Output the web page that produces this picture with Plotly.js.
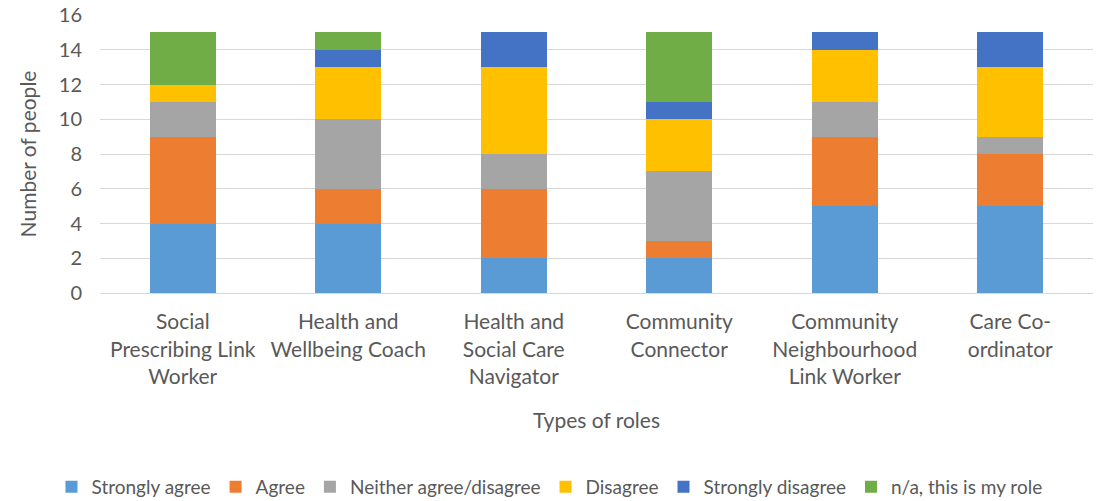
<!DOCTYPE html>
<html><head><meta charset="utf-8">
<script src="https://cdn.plot.ly/plotly-3.0.1.min.js"></script>
<style>body{margin:0;background:#fff}#c{width:1099px;height:501px}</style>
</head><body><div id="c"></div>
<script>
const categories = ["Social<br>Prescribing Link<br>Worker","Health and<br>Wellbeing Coach","Health and<br>Social Care<br>Navigator","Community<br>Connector","Community<br>Neighbourhood<br>Link Worker","Care Co-<br>ordinator"];
const stronglyAgree = [4,4,2,2,5,5];
const agree = [5,2,4,1,4,3];
const neither = [2,4,2,4,2,1];
const disagree = [1,3,5,3,3,4];
const stronglyDisagree = [0,1,2,1,1,2];
const notApplicable = [3,1,0,4,0,0];
const seriesNames = ["Strongly agree","Agree","Neither agree/disagree","Disagree","Strongly disagree","n/a, this is my role"];
const seriesValues = [stronglyAgree, agree, neither, disagree, stronglyDisagree, notApplicable];
const colors = ["#5B9BD5","#ED7D31","#A5A5A5","#FFC000","#4472C4","#70AD47"];
const font = "Lato, 'Open Sans', sans-serif";
const traces = seriesNames.map((n,i)=>({type:"bar",name:n,x:categories,y:seriesValues[i],marker:{color:colors[i]},hoverinfo:"none"}));
const layout = {
  width:1099,height:501,barmode:"stack",bargap:0.6,
  margin:{l:100,r:6,t:15,b:208},
  paper_bgcolor:"#fff",plot_bgcolor:"#fff",
  font:{family:font,color:"#595959",size:20},
  xaxis:{showline:true,linecolor:"#d9d9d9",linewidth:1,tickfont:{size:21,color:"#595959"},ticks:"",ticklabelstandoff:10,automargin:false,
    title:{text:"Types of roles",font:{size:21,color:"#595959"},standoff:26}},
  yaxis:{range:[0,16],dtick:2,gridcolor:"#d9d9d9",zeroline:false,tickfont:{size:20,color:"#595959"},ticklabelstandoff:17,automargin:false,
    title:{text:"Number of people",font:{size:21,color:"#595959"},standoff:16}},
  legend:{orientation:"h",traceorder:"normal",x:0.5,xanchor:"center",xref:"container",y:0.028,yanchor:"middle",yref:"container",font:{size:19,color:"#595959"},itemwidth:30,tracegroupgap:0},
  showlegend:true
};
Plotly.newPlot("c",traces,layout,{displayModeBar:false,staticPlot:true});
</script></body></html>
